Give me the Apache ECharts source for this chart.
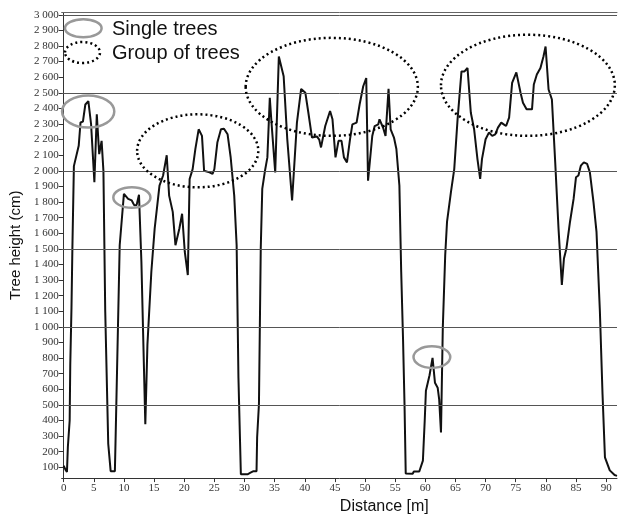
<!DOCTYPE html>
<html>
<head>
<meta charset="utf-8">
<script src="https://cdn.jsdelivr.net/npm/echarts@6/dist/echarts.min.js"></script>
<style>
  html, body { margin: 0; padding: 0; background: #fff; }
  #chart { width: 618px; height: 520px; }
</style>
</head>
<body>
<div id="chart"></div>
<script>
  // distance along the transect (m) and measured tree height (cm)
  const distance = [
    0, 0.3, 0.55, 0.7, 1.0, 1.1, 1.3, 1.45, 1.7, 2.5, 2.8, 3.2, 3.6, 4.1, 4.55, 5.1, 5.5, 5.9, 6.3, 6.6,
    6.9, 7.4, 7.8, 8.5, 8.6, 9.3, 10.0, 10.7, 11.3, 11.7, 12.1, 12.5, 12.9, 13.55, 13.9, 14.55, 15.1, 15.9, 16.5, 17.1,
    17.5, 18.1, 18.55, 19.2, 19.65, 20.1, 20.6, 20.9, 21.4, 21.85, 22.4, 22.95, 23.3, 24.2, 24.7, 25.0, 25.5, 26.1, 26.6, 27.2,
    27.7, 28.3, 28.7, 29.0, 29.4, 30.5, 31.0, 31.5, 32.0, 32.1, 32.4, 32.7, 32.95, 33.4, 33.8, 34.2, 34.5, 35.1, 35.7, 36.5,
    37.1, 37.9, 38.7, 39.4, 40.1, 40.6, 41.2, 42.0, 42.4, 42.7, 43.4, 44.2, 44.6, 45.1, 45.6, 46.1, 46.5, 47.0, 47.5, 47.9,
    48.6, 49.1, 49.7, 50.2, 50.5, 51.2, 51.6, 52.2, 52.4, 53.0, 53.4, 53.9, 54.25, 54.8, 55.2, 55.7, 56.0, 56.3, 56.55, 56.75,
    57.9, 58.1, 59.0, 59.3, 59.6, 59.9, 60.1, 60.7, 61.2, 61.6, 62.05, 62.3, 62.6, 62.9, 63.3, 63.6, 64.25, 64.8, 65.35, 66.0,
    66.5, 67.0, 67.55, 68.1, 68.65, 69.1, 69.4, 70.0, 70.55, 71.1, 71.6, 72.05, 72.6, 73.0, 73.4, 73.9, 74.4, 75.1, 75.8, 76.2,
    76.8, 77.7, 78.0, 78.5, 79.1, 79.6, 79.95, 80.45, 81.0, 81.55, 82.1, 82.65, 83.0, 83.4, 84.0, 84.6, 85.0, 85.4, 85.8, 86.3,
    86.85, 87.3, 87.9, 88.4, 88.96, 89.4, 89.8, 90.6, 91.4, 91.8
  ];
  const height = [
    110, 85, 70, 230, 400, 760, 1120, 1500, 2030, 2160, 2310, 2315, 2425, 2446, 2300, 1927, 2362, 2107, 2192, 2000,
    1100, 250, 75, 75, 250, 1523, 1852, 1820, 1810, 1780, 1780, 1846, 1417, 376, 886, 1353, 1629, 1905, 1970, 2100,
    1841, 1737, 1523, 1630, 1725, 1480, 1332, 1948, 2011, 2139, 2266, 2224, 2000, 1990, 1980, 2010, 2181, 2266, 2270, 2234,
    2090, 1841, 1523, 674, 55, 55, 65, 75, 75, 292, 504, 1502, 1884, 2000, 2086, 2468, 2300, 1990, 2733, 2606,
    2202, 1810, 2309, 2525, 2500, 2372, 2213, 2220, 2200, 2150, 2287, 2383, 2330, 2086, 2192, 2192, 2086, 2054, 2200, 2298,
    2309, 2425, 2542, 2595, 1937, 2223, 2287, 2298, 2330, 2276, 2223, 2525, 2266, 2213, 2140, 1905, 1353, 929, 504, 60,
    58, 73, 73, 85, 143, 398, 590, 690, 801, 642, 610, 535, 323, 992, 1459, 1672, 1863, 2011, 2330, 2637,
    2637, 2659, 2372, 2266, 2075, 1948, 2075, 2202, 2245, 2224, 2234, 2277, 2309, 2298, 2287, 2341, 2564, 2631, 2500, 2436,
    2394, 2394, 2553, 2617, 2659, 2733, 2797, 2521, 2457, 2054, 1629, 1268, 1438, 1500, 1672, 1820, 1959, 1970, 2033, 2054,
    2044, 1990, 1799, 1608, 1100, 568, 164, 80, 50, 45
  ];

  const xTicks = [0, 5, 10, 15, 20, 25, 30, 35, 40, 45, 50, 55, 60, 65, 70, 75, 80, 85, 90];
  const yTicks = [100, 200, 300, 400, 500, 600, 700, 800, 900, 1000, 1100, 1200, 1300, 1400, 1500,
    1600, 1700, 1800, 1900, 2000, 2100, 2200, 2300, 2400, 2500, 2600, 2700, 2800, 2900, 3000];
  const gridValues = [500, 1000, 1500, 2000, 2500, 3000];

  // annotation ellipses: [centre distance m, centre height cm, half-width m, half-height cm]
  const singleTrees = [[4.07, 2380, 4.33, 103], [11.32, 1829, 3.08, 66], [61.09, 806, 3.05, 69]];
  const treeGroups = [[22.24, 2128, 10.05, 234], [44.48, 2538, 14.28, 314], [77.02, 2548, 14.42, 324]];

  const legendItems = ['Single trees', 'Group of trees'];

  const fmtThousands = v => String(v).replace(/\B(?=(\d{3})+(?!\d))/g, ' ');

  const chart = echarts.init(document.getElementById('chart'));

  chart.setOption({
    animation: false,
    backgroundColor: '#fff',
    grid: { left: 58, right: 1, top: 12.5, bottom: 39 },
    xAxis: [
      {
        type: 'value',
        min: -0.33,
        max: 91.8,
        name: 'Distance [m]',
        nameLocation: 'middle',
        nameGap: 20,
        nameTextStyle: { fontFamily: 'Liberation Sans', fontSize: 16, color: '#111', padding: [0, 0, 0, 90] },
        axisLine: { lineStyle: { color: '#333', width: 1 } },
        axisTick: { customValues: xTicks, length: 4, lineStyle: { color: '#333' } },
        axisLabel: { customValues: xTicks, fontFamily: 'Liberation Serif', fontSize: 11, color: '#333', margin: 5 },
        splitLine: { show: false }
      },
      {
        type: 'value',
        position: 'top',
        min: -0.33,
        max: 91.8,
        axisLine: { lineStyle: { color: '#666', width: 1 } },
        axisTick: { show: false },
        axisLabel: { show: false },
        splitLine: { show: false }
      }
    ],
    yAxis: {
      type: 'value',
      min: 30.6,
      max: 3014.6,
      name: 'Tree height (cm)',
      nameLocation: 'middle',
      nameGap: 36,
      nameTextStyle: { fontFamily: 'Liberation Sans', fontSize: 15, color: '#111' },
      axisLine: { show: true, lineStyle: { color: '#333', width: 1 } },
      axisTick: { show: true, customValues: yTicks, length: 5, lineStyle: { color: '#333' } },
      axisLabel: {
        customValues: yTicks,
        formatter: fmtThousands,
        fontFamily: 'Liberation Serif',
        fontSize: 11,
        color: '#333',
        margin: 3
      },
      splitLine: { show: false }
    },
    series: [
      {
        type: 'line',
        data: distance.map((d, i) => [d, height[i]]),
        showSymbol: false,
        lineStyle: { color: '#111', width: 2 },
        markLine: {
          silent: true,
          symbol: 'none',
          label: { show: false },
          lineStyle: { color: '#555', width: 1, type: 'solid' },
          data: gridValues.map(v => ({ yAxis: v }))
        },
        z: 3
      }
    ]
  });

  function ellipseGraphic(e, style) {
    const c = chart.convertToPixel({ gridIndex: 0 }, [e[0], e[1]]);
    const r = chart.convertToPixel({ gridIndex: 0 }, [e[0] + e[2], e[1] + e[3]]);
    return {
      type: 'ellipse',
      silent: true,
      z: 10,
      shape: { cx: c[0], cy: c[1], rx: Math.abs(r[0] - c[0]), ry: Math.abs(c[1] - r[1]) },
      style: Object.assign({ fill: null }, style)
    };
  }

  const solidStyle = { stroke: '#999', lineWidth: 2.5 };
  const dottedStyle = { stroke: '#000', lineWidth: 2.5, lineDash: [2, 3] };

  chart.setOption({
    graphic: [
      ...singleTrees.map(e => ellipseGraphic(e, solidStyle)),
      ...treeGroups.map(e => ellipseGraphic(e, dottedStyle)),
      { type: 'ellipse', z: 10, shape: { cx: 83.3, cy: 28.3, rx: 18.3, ry: 9 }, style: Object.assign({ fill: null }, solidStyle) },
      { type: 'ellipse', z: 10, shape: { cx: 82.5, cy: 52.5, rx: 17.5, ry: 10.5 }, style: Object.assign({ fill: null }, dottedStyle) },
      {
        type: 'text', z: 10, x: 112, y: 29,
        style: { text: legendItems[0], font: '20px "Liberation Sans"', fill: '#111', verticalAlign: 'middle' }
      },
      {
        type: 'text', z: 10, x: 112, y: 53,
        style: { text: legendItems[1], font: '20px "Liberation Sans"', fill: '#111', verticalAlign: 'middle' }
      }
    ]
  });
</script>
</body>
</html>
